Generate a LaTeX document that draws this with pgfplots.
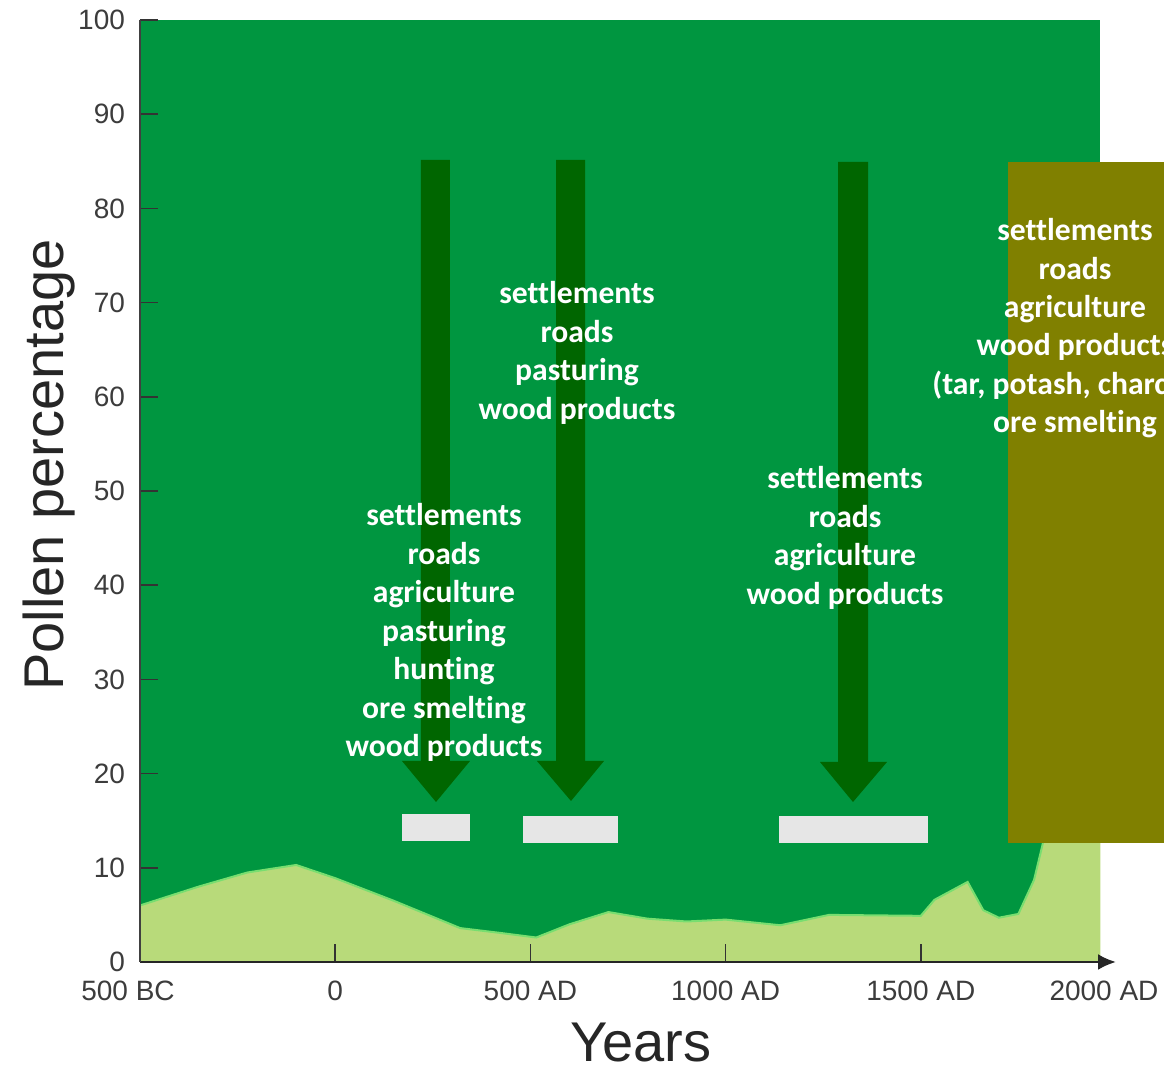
\documentclass[border=0pt]{standalone}
\usepackage{pgfplots}
\pgfplotsset{compat=1.18}
\usepackage{pgfplotstable}
\usepackage{fontspec}
\setmainfont{Liberation Sans}
\newfontfamily\calib[Ligatures={NoCommon,NoContextual}]{Carlito}
\usetikzlibrary{arrows.meta}
\definecolor{darkg}{RGB}{0,150,64}
\definecolor{lightg}{RGB}{184,218,122}
\definecolor{edgeg}{RGB}{120,222,112}
\definecolor{arrowg}{RGB}{0,102,0}
\definecolor{olivebox}{RGB}{128,128,0}
\definecolor{boxgray}{RGB}{230,230,230}
\definecolor{ticklab}{RGB}{60,60,60}

\pgfplotstableread{
year pct
-500 6.0
-350 8.0
-225 9.5
-100 10.3
0 8.9
150 6.5
320 3.6
420 3.1
515 2.6
600 4.0
700 5.3
800 4.6
900 4.3
1000 4.5
1140 3.9
1265 5.0
1500 4.9
1535 6.6
1620 8.5
1660 5.5
1700 4.7
1750 5.1
1790 8.7
1815 13.0
1840 25.0
1880 45.0
1920 60.0
1960 65.0
}\pollen

\pgfplotstableread{
year pct
-500 100
1960 100
}\forest

\begin{document}
\begin{tikzpicture}
\begin{axis}[
  scale only axis, width=488pt, height=471pt,
  xmin=-500, xmax=2000, ymin=0, ymax=100,
  axis x line=bottom, axis y line=left,
  x axis line style={line width=1.3pt, color=black!85, -{Latex[length=9pt,width=8pt]}},
  y axis line style={line width=1pt, color=black!75, -},
  axis on top,
  xtick={0,500,1000,1500},
  xticklabels={0,500 AD,1000 AD,1500 AD},
  extra x ticks={-500,2000},
  extra x tick labels={500 BC,2000 AD},
  extra x tick style={major tick length=0pt, xticklabel style={xshift=-6pt}},
  ytick={0,10,...,100},
  tick align=inside,
  major tick length=9pt,
  tick style={black!80, line width=0.8pt},
  ticklabel style={font=\fontsize{14}{16}\selectfont, text=ticklab},
  xticklabel style={yshift=-6pt},
  yticklabel style={xshift=-4pt},
  /pgf/number format/assume math mode=true,
  clip=false,
]
\addplot[fill=darkg, draw=none] table[x=year,y=pct] {\forest} \closedcycle;
\addplot[fill=lightg, draw=none] table[x=year,y=pct] {\pollen} \closedcycle;
\addplot[edgeg, line width=1pt] table[x=year,y=pct] {\pollen};
\end{axis}

\begin{scope}[shift={(-70pt,481pt)}, x=0.5pt, y=-0.5pt]
  % block arrows
  \fill[arrowg] (421,160) -- (450,160) -- (450,761) -- (470,761) -- (436,802) -- (402,761) -- (421,761) -- cycle;
  \fill[arrowg] (556,160) -- (585,160) -- (585,761) -- (604,761) -- (571,801) -- (537,761) -- (556,761) -- cycle;
  \fill[arrowg] (838,162) -- (868,162) -- (868,762) -- (887,762) -- (853,802) -- (820,762) -- (838,762) -- cycle;
  % grey bars
  \fill[boxgray] (402,814) rectangle (470,841);
  \fill[boxgray] (523,816) rectangle (618,843);
  \fill[boxgray] (779,816) rectangle (928,843);
  % olive box
  \fill[olivebox] (1008,162) rectangle (1175,843);

  \tikzset{lab/.style={anchor=base, text=white, inner sep=0pt,
      font=\calib\bfseries\fontsize{15.8}{19}\selectfont}}
  \foreach \t [count=\i from 0] in {settlements,roads,agriculture,pasturing,hunting,ore smelting,wood products}
    \node[lab] at (444,{526+38.5*\i}) {\t};
  \foreach \t [count=\i from 0] in {settlements,roads,pasturing,wood products}
    \node[lab] at (577,{304+38.4*\i}) {\t};
  \foreach \t [count=\i from 0] in {settlements,roads,agriculture,wood products}
    \node[lab] at (845,{489+38.4*\i}) {\t};
  \foreach \t [count=\i from 0] in {settlements,roads,agriculture,wood products,{(tar, potash, charcoal)},ore smelting}
    \node[lab] at (1075,{241+38.3*\i}) {\t};

  % axis titles
  \node[anchor=base, inner sep=0pt, text=black!85, font=\fontsize{28}{32}\selectfont] at (641,1062) {Years};
  \node[anchor=base, inner sep=0pt, rotate=90, text=black!85, font=\fontsize{28}{32}\selectfont] at (64,465) {Pollen percentage};

  \pgfresetboundingbox
  \path[use as bounding box] (0,0) rectangle (1164,1071);
\end{scope}
\end{tikzpicture}
\end{document}
